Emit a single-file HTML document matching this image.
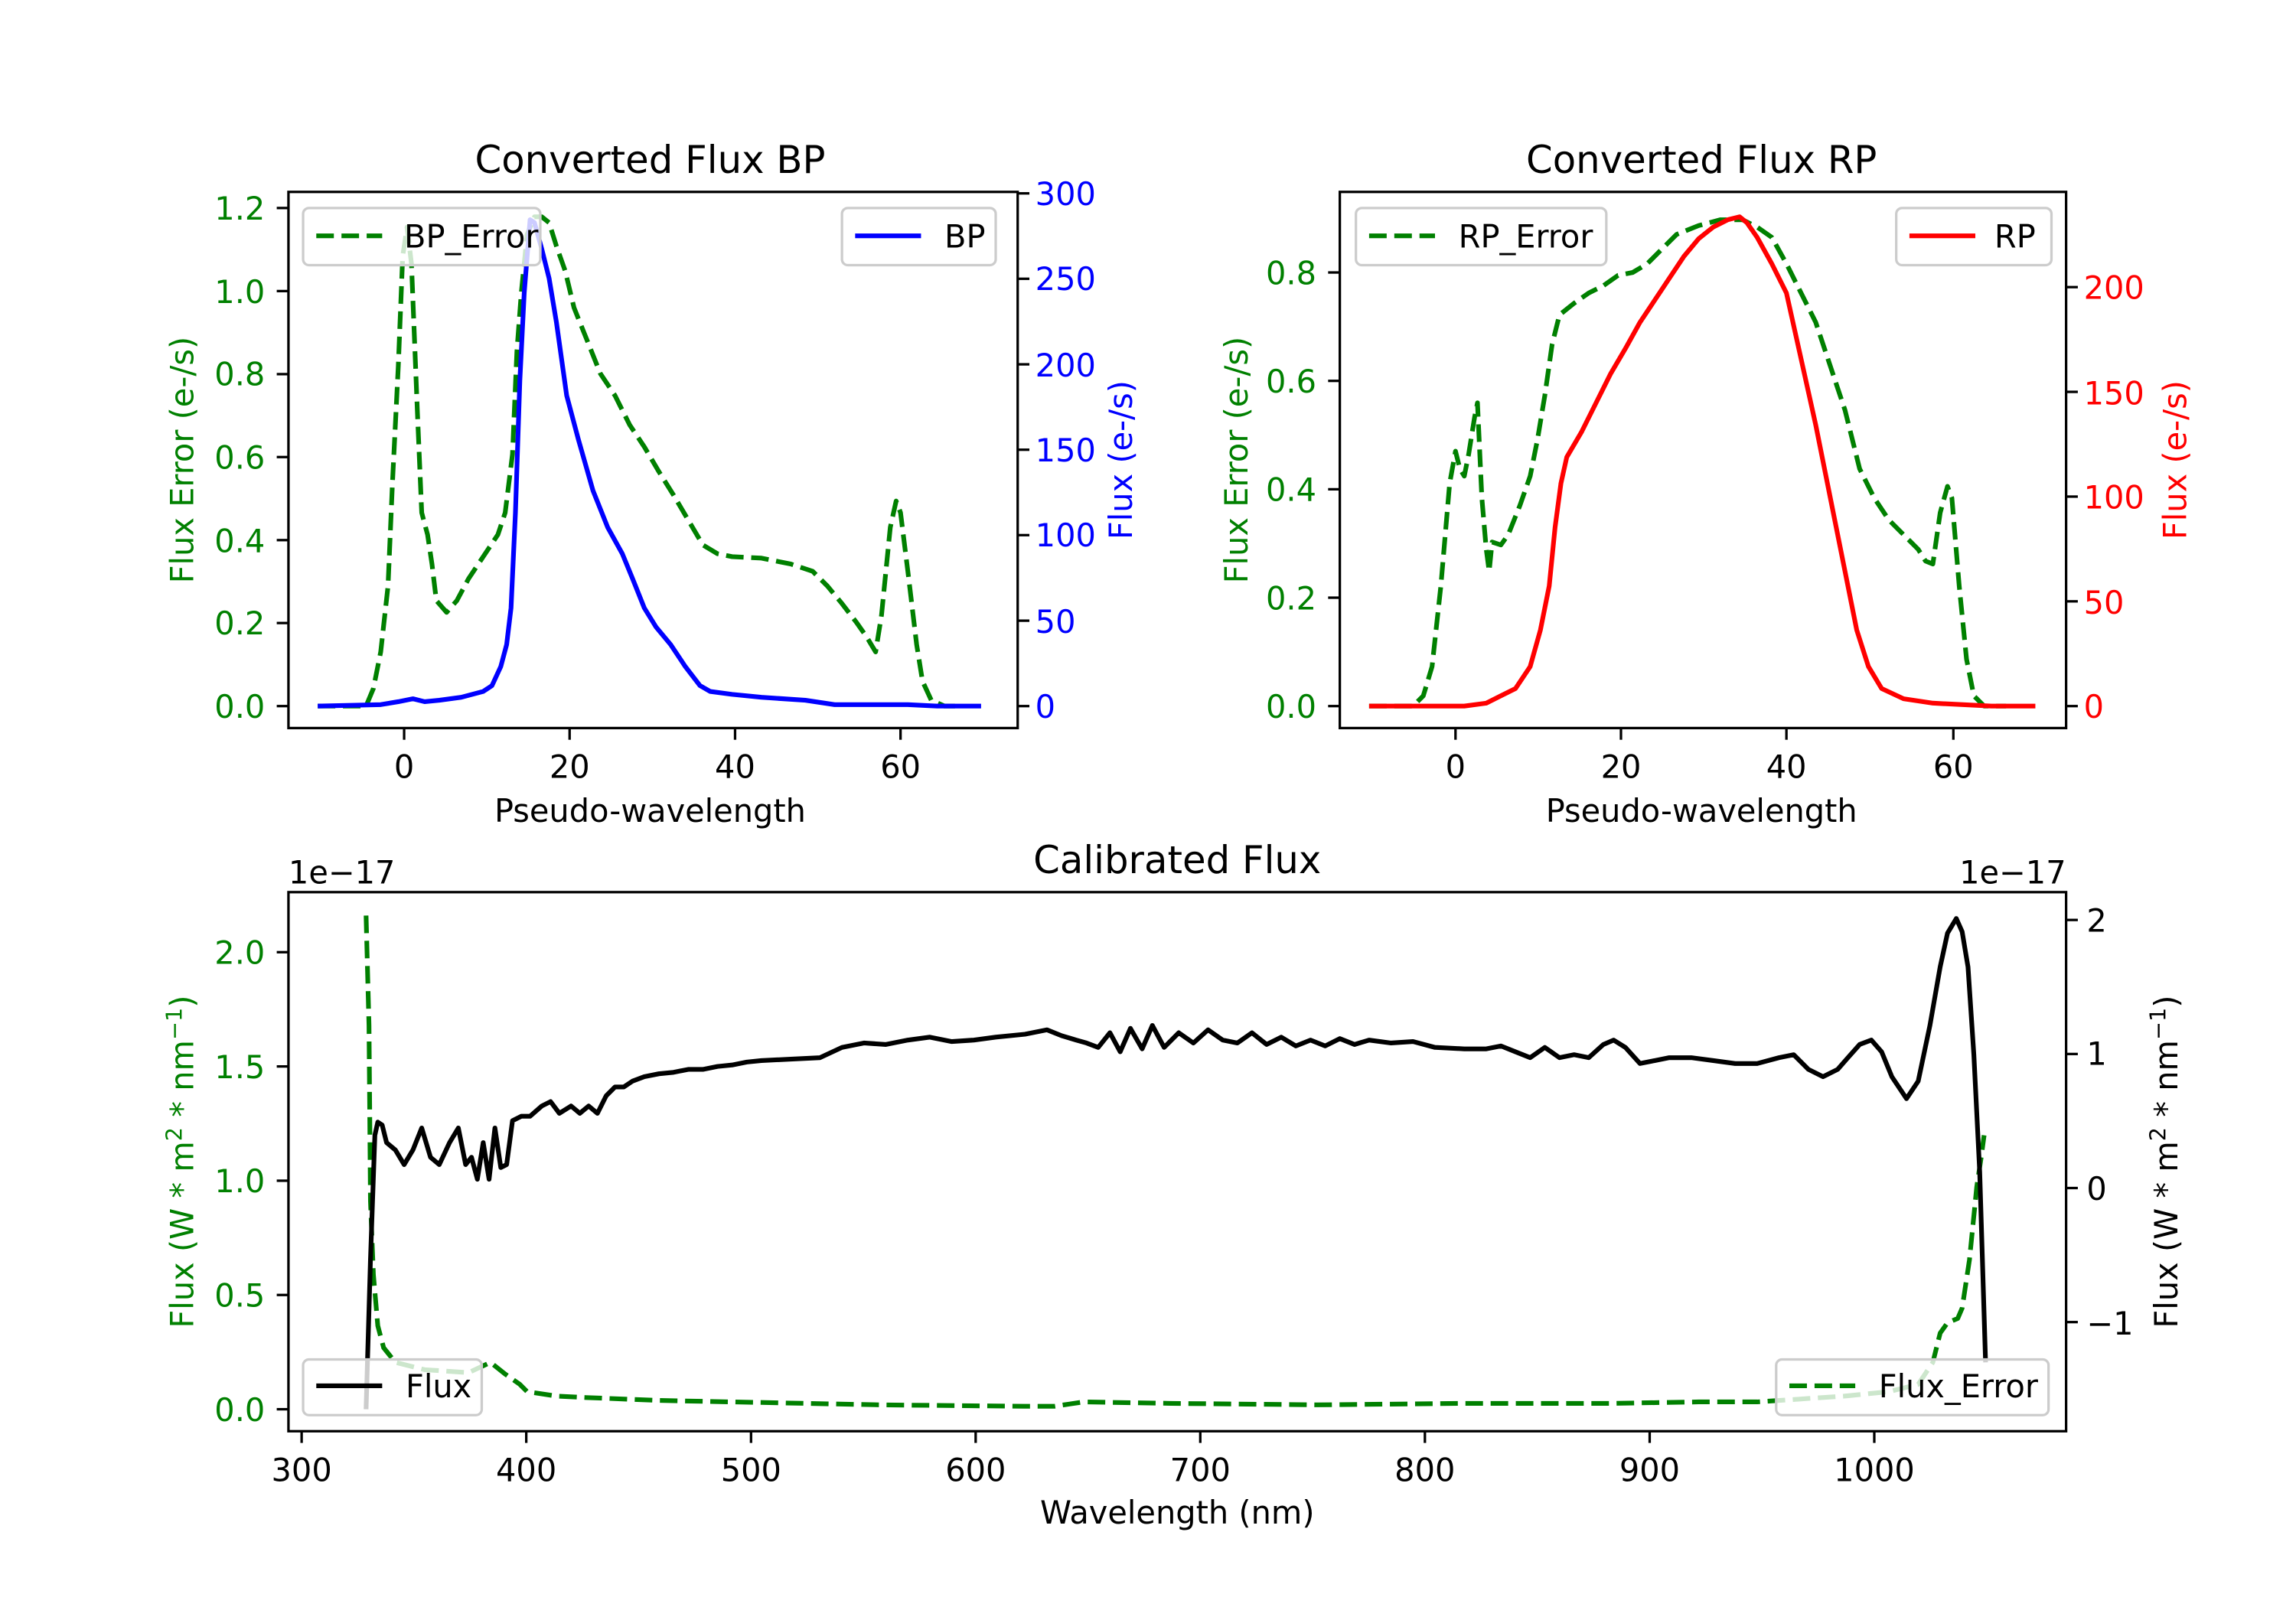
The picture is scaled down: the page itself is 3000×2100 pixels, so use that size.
<!DOCTYPE html>
<html><head><meta charset="utf-8"><style>
html,body{margin:0;padding:0;background:#fff;}
svg{display:block;}
text{font-family:"DejaVu Sans","Liberation Sans",sans-serif;font-size:21.7px;}
.t{font-size:26px;}
</style></head><body>
<svg width="3000" height="2100" viewBox="0 0 1568 1097" preserveAspectRatio="none" xmlns="http://www.w3.org/2000/svg">
<rect width="1568" height="1097" fill="#fff"/>

<!-- ===== Top-left BP ===== -->
<g fill="none" stroke-width="3.2" stroke-linejoin="round">
<polyline stroke="#008000" stroke-dasharray="12,5.2" points="217,482 250,482 255,470 260,445 265,400 268,330 272,250 275,175 278,155 281,180 285,280 288,350 292,365 295,385 298,410 305,418 312,410 320,395 330,380 340,365 345,350 350,310 353,240 356,200 360,160 365,148 370,148 375,152 380,168 386,185 392,210 400,230 410,255 420,270 430,290 440,305 450,322 460,338 470,355 480,372 490,378 500,380 520,381 540,385 555,390 565,400 575,412 585,425 592,435 598,445 602,420 608,360 612,342 615,350 620,390 626,440 630,465 636,478 645,482 655,482"/>
<polyline stroke="#0000ff" points="217,482 260,481 272,479 282,477 290,479 300,478 315,476 330,472 336,468 342,455 346,440 349,415 352,350 355,260 358,200 362,150 365,152 370,170 375,190 380,220 387,270 395,300 405,335 415,360 425,378 432,395 440,415 448,428 458,440 468,455 478,468 485,472 500,474 520,476 550,478 570,481 600,481 620,481 640,482 670,482"/>
</g>
<rect x="197" y="131" width="498" height="366" fill="none" stroke="#000" stroke-width="1.7"/>
<g stroke="#000" stroke-width="1.7">
<line x1="276" y1="497" x2="276" y2="505"/><line x1="389" y1="497" x2="389" y2="505"/><line x1="502" y1="497" x2="502" y2="505"/><line x1="615" y1="497" x2="615" y2="505"/>
<line x1="189" y1="482" x2="197" y2="482"/><line x1="189" y1="425.3" x2="197" y2="425.3"/><line x1="189" y1="368.7" x2="197" y2="368.7"/><line x1="189" y1="312" x2="197" y2="312"/><line x1="189" y1="255.4" x2="197" y2="255.4"/><line x1="189" y1="198.7" x2="197" y2="198.7"/><line x1="189" y1="142" x2="197" y2="142"/>
<line x1="695" y1="482" x2="703" y2="482"/><line x1="695" y1="423.7" x2="703" y2="423.7"/><line x1="695" y1="365.3" x2="703" y2="365.3"/><line x1="695" y1="307" x2="703" y2="307"/><line x1="695" y1="248.7" x2="703" y2="248.7"/><line x1="695" y1="190.3" x2="703" y2="190.3"/><line x1="695" y1="132" x2="703" y2="132"/>
</g>
<g text-anchor="middle"><text x="276" y="531">0</text><text x="389" y="531">20</text><text x="502" y="531">40</text><text x="615" y="531">60</text></g>
<g text-anchor="end" fill="#008000"><text x="181" y="490">0.0</text><text x="181" y="433">0.2</text><text x="181" y="377">0.4</text><text x="181" y="320">0.6</text><text x="181" y="263">0.8</text><text x="181" y="207">1.0</text><text x="181" y="150">1.2</text></g>
<g fill="#0000ff"><text x="707" y="490">0</text><text x="707" y="432">50</text><text x="707" y="373">100</text><text x="707" y="315">150</text><text x="707" y="257">200</text><text x="707" y="198">250</text><text x="707" y="140">300</text></g>
<text x="444" y="561" text-anchor="middle">Pseudo-wavelength</text>
<text class="t" x="444" y="118" text-anchor="middle">Converted Flux BP</text>
<text transform="translate(132,314) rotate(-90)" text-anchor="middle" fill="#008000">Flux Error (e-/s)</text>
<text transform="translate(773,314) rotate(-90)" text-anchor="middle" fill="#0000ff">Flux (e-/s)</text>
<rect x="207" y="142" width="162" height="39" rx="4" fill="#fff" fill-opacity="0.8" stroke="#ccc" stroke-width="1.7"/>
<line x1="216" y1="161" x2="261" y2="161" stroke="#008000" stroke-width="3.2" stroke-dasharray="12,5.2"/>
<text x="276" y="169">BP_Error</text>
<rect x="575" y="142" width="105" height="39" rx="4" fill="#fff" fill-opacity="0.8" stroke="#ccc" stroke-width="1.7"/>
<line x1="584" y1="161" x2="629" y2="161" stroke="#0000ff" stroke-width="3.2"/>
<text x="645" y="169">BP</text>

<!-- ===== Top-right RP ===== -->
<g fill="none" stroke-width="3.2" stroke-linejoin="round">
<polyline stroke="#008000" stroke-dasharray="12,5.2" points="935,482 965,482 972,475 978,455 984,400 990,330 994,308 997,320 1000,325 1003,310 1007,285 1009,275 1012,340 1015,375 1017,390 1019,370 1025,372 1030,365 1038,345 1045,325 1050,300 1055,270 1060,235 1065,215 1075,207 1085,200 1095,195 1105,188 1115,186 1125,180 1135,170 1145,160 1160,154 1175,150 1190,150 1200,155 1210,162 1220,180 1230,200 1240,220 1250,250 1260,280 1270,320 1280,340 1290,355 1300,365 1310,375 1315,383 1320,385 1325,350 1330,332 1333,340 1338,400 1343,450 1348,475 1355,482 1370,482"/>
<polyline stroke="#ff0000" points="935,482 1000,482 1015,480 1025,475 1035,470 1045,455 1052,430 1058,400 1062,360 1066,330 1070,312 1080,295 1090,275 1100,255 1110,238 1120,220 1130,205 1140,190 1150,175 1160,163 1170,155 1180,150 1188,148 1193,152 1200,162 1210,180 1220,200 1230,245 1240,290 1250,340 1260,390 1268,430 1276,455 1285,470 1300,477 1320,480 1360,482 1390,482"/>
</g>
<rect x="915" y="131" width="496" height="366" fill="none" stroke="#000" stroke-width="1.7"/>
<g stroke="#000" stroke-width="1.7">
<line x1="994" y1="497" x2="994" y2="505"/><line x1="1107" y1="497" x2="1107" y2="505"/><line x1="1220" y1="497" x2="1220" y2="505"/><line x1="1334" y1="497" x2="1334" y2="505"/>
<line x1="907" y1="482" x2="915" y2="482"/><line x1="907" y1="408" x2="915" y2="408"/><line x1="907" y1="334" x2="915" y2="334"/><line x1="907" y1="260" x2="915" y2="260"/><line x1="907" y1="186" x2="915" y2="186"/>
<line x1="1411" y1="482" x2="1419" y2="482"/><line x1="1411" y1="410.5" x2="1419" y2="410.5"/><line x1="1411" y1="339" x2="1419" y2="339"/><line x1="1411" y1="267.5" x2="1419" y2="267.5"/><line x1="1411" y1="196" x2="1419" y2="196"/>
</g>
<g text-anchor="middle"><text x="994" y="531">0</text><text x="1107" y="531">20</text><text x="1220" y="531">40</text><text x="1334" y="531">60</text></g>
<g text-anchor="end" fill="#008000"><text x="899" y="490">0.0</text><text x="899" y="416">0.2</text><text x="899" y="342">0.4</text><text x="899" y="268">0.6</text><text x="899" y="194">0.8</text></g>
<g fill="#ff0000"><text x="1423" y="490">0</text><text x="1423" y="419">50</text><text x="1423" y="347">100</text><text x="1423" y="276">150</text><text x="1423" y="204">200</text></g>
<text x="1162" y="561" text-anchor="middle">Pseudo-wavelength</text>
<text class="t" x="1162" y="118" text-anchor="middle">Converted Flux RP</text>
<text transform="translate(852,314) rotate(-90)" text-anchor="middle" fill="#008000">Flux Error (e-/s)</text>
<text transform="translate(1493,314) rotate(-90)" text-anchor="middle" fill="#ff0000">Flux (e-/s)</text>
<rect x="926" y="142" width="171" height="39" rx="4" fill="#fff" fill-opacity="0.8" stroke="#ccc" stroke-width="1.7"/>
<line x1="935" y1="161" x2="980" y2="161" stroke="#008000" stroke-width="3.2" stroke-dasharray="12,5.2"/>
<text x="996" y="169">RP_Error</text>
<rect x="1295" y="142" width="106" height="39" rx="4" fill="#fff" fill-opacity="0.8" stroke="#ccc" stroke-width="1.7"/>
<line x1="1304" y1="161" x2="1349" y2="161" stroke="#ff0000" stroke-width="3.2"/>
<text x="1362" y="169">RP</text>

<!-- ===== Bottom Calibrated ===== -->
<g fill="none" stroke-width="3.2" stroke-linejoin="round">
<polyline stroke="#008000" stroke-dasharray="12,5.2" points="250,625 252,700 253,820 255,870 258,905 262,920 270,930 290,935 320,937 335,930 345,938 355,945 360,950 380,953 400,954 450,956 500,957 600,959 700,960 720,960 740,957 800,958 900,959 1000,958 1100,958 1160,957 1200,957 1230,955 1260,953 1290,950 1310,945 1320,930 1325,910 1330,903 1337,900 1340,893 1345,860 1350,810 1353,790 1355,775"/>
<polyline stroke="#000" points="250,962 253,860 256,775 258,766 261,768 264,780 270,785 276,795 282,785 288,770 294,790 300,795 307,780 313,770 318,795 322,790 326,805 330,780 334,805 338,770 342,797 346,795 350,765 356,762 362,762 370,755 376,752 382,760 390,755 396,760 402,755 408,760 414,748 420,742 426,742 432,738 440,735 450,733 460,732 470,730 480,730 490,728 500,727 510,725 520,724 540,723 560,722 575,715 590,712 605,713 620,710 635,708 650,711 665,710 680,708 700,706 715,703 725,707 735,710 742,712 750,715 758,705 765,718 772,702 780,716 787,700 795,715 805,705 815,712 825,703 835,710 845,712 855,705 865,713 875,708 885,714 895,710 905,714 915,709 925,713 935,710 950,712 965,711 980,715 1000,716 1015,716 1025,714 1035,718 1045,722 1055,715 1065,722 1075,720 1085,722 1095,713 1102,710 1110,715 1120,726 1130,724 1140,722 1155,722 1170,724 1185,726 1200,726 1215,722 1225,720 1235,730 1245,735 1255,730 1262,722 1270,713 1278,710 1285,718 1292,735 1302,750 1310,738 1318,700 1325,660 1330,637 1336,627 1340,636 1344,660 1348,720 1352,800 1356,930"/>
</g>
<rect x="197" y="609" width="1214" height="368" fill="none" stroke="#000" stroke-width="1.7"/>
<g stroke="#000" stroke-width="1.7">
<line x1="206" y1="977" x2="206" y2="985"/><line x1="359.4" y1="977" x2="359.4" y2="985"/><line x1="512.9" y1="977" x2="512.9" y2="985"/><line x1="666.3" y1="977" x2="666.3" y2="985"/><line x1="819.7" y1="977" x2="819.7" y2="985"/><line x1="973.1" y1="977" x2="973.1" y2="985"/><line x1="1126.6" y1="977" x2="1126.6" y2="985"/><line x1="1280" y1="977" x2="1280" y2="985"/>
<line x1="189" y1="962" x2="197" y2="962"/><line x1="189" y1="884" x2="197" y2="884"/><line x1="189" y1="806" x2="197" y2="806"/><line x1="189" y1="728" x2="197" y2="728"/><line x1="189" y1="650" x2="197" y2="650"/>
<line x1="1411" y1="628" x2="1419" y2="628"/><line x1="1411" y1="719.5" x2="1419" y2="719.5"/><line x1="1411" y1="811" x2="1419" y2="811"/><line x1="1411" y1="902.5" x2="1419" y2="902.5"/>
</g>
<g text-anchor="middle"><text x="206" y="1011">300</text><text x="359.4" y="1011">400</text><text x="512.9" y="1011">500</text><text x="666.3" y="1011">600</text><text x="819.7" y="1011">700</text><text x="973.1" y="1011">800</text><text x="1126.6" y="1011">900</text><text x="1280" y="1011">1000</text></g>
<g text-anchor="end" fill="#008000"><text x="181" y="970">0.0</text><text x="181" y="892">0.5</text><text x="181" y="814">1.0</text><text x="181" y="736">1.5</text><text x="181" y="658">2.0</text></g>
<g><text x="1425" y="636">2</text><text x="1425" y="727">1</text><text x="1425" y="819">0</text><text x="1425" y="911">−1</text></g>
<text x="197" y="603">1e−17</text>
<text x="1411" y="603" text-anchor="end">1e−17</text>
<text x="804" y="1040" text-anchor="middle">Wavelength (nm)</text>
<text class="t" x="804" y="596" text-anchor="middle">Calibrated Flux</text>
<text transform="translate(132,793) rotate(-90)" text-anchor="middle" fill="#008000">Flux (W * m<tspan dy="-8" font-size="15">2</tspan><tspan dy="8"> * nm</tspan><tspan dy="-8" font-size="15">−1</tspan><tspan dy="8">)</tspan></text>
<text transform="translate(1487,793) rotate(-90)" text-anchor="middle">Flux (W * m<tspan dy="-8" font-size="15">2</tspan><tspan dy="8"> * nm</tspan><tspan dy="-8" font-size="15">−1</tspan><tspan dy="8">)</tspan></text>
<rect x="207" y="928" width="122" height="38" rx="4" fill="#fff" fill-opacity="0.8" stroke="#ccc" stroke-width="1.7"/>
<line x1="216" y1="946" x2="261" y2="946" stroke="#000" stroke-width="3.2"/>
<text x="277" y="954">Flux</text>
<rect x="1213" y="928" width="186" height="38" rx="4" fill="#fff" fill-opacity="0.8" stroke="#ccc" stroke-width="1.7"/>
<line x1="1222" y1="946" x2="1267" y2="946" stroke="#008000" stroke-width="3.2" stroke-dasharray="12,5.2"/>
<text x="1283" y="954">Flux_Error</text>
</svg>
</body></html>
